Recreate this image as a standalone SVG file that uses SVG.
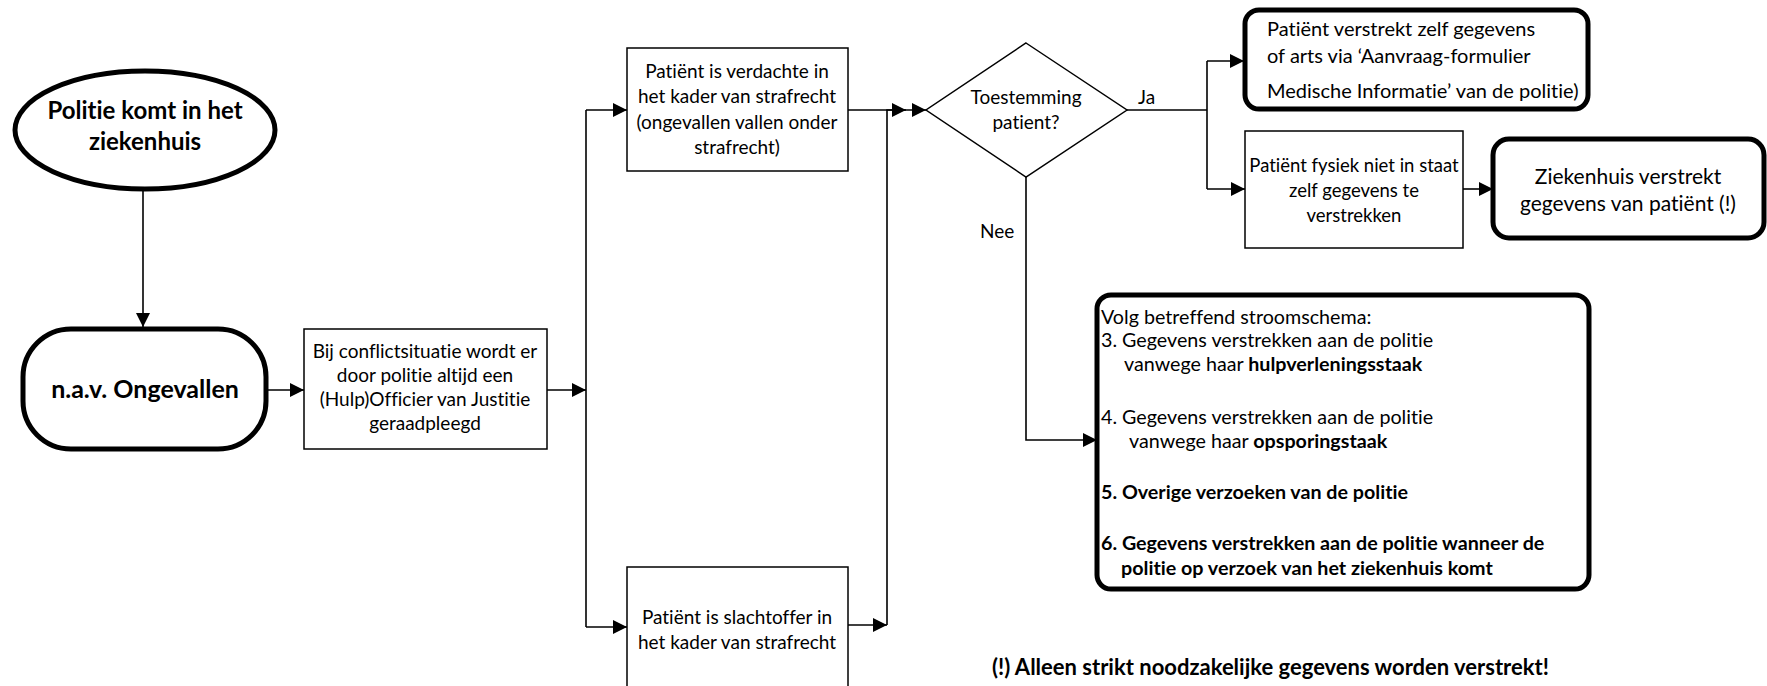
<svg xmlns="http://www.w3.org/2000/svg" width="1767" height="686" viewBox="0 0 1767 686">
  <style>
    text { font-family: Lato, "Liberation Sans", sans-serif; fill: #000; font-variant-ligatures: none; }
    .t { font-size: 19px; }
    .m { font-size: 19.7px; }
    .c { text-anchor: middle; }
    .b { font-weight: bold; }
    .thin { fill: #fff; stroke: #000; stroke-width: 1.5; }
    .thick { fill: #fff; stroke: #000; stroke-width: 5; }
    .wire { fill: none; stroke: #000; stroke-width: 1.6; }
  </style>
  <defs>
    <marker id="arrow" viewBox="0 0 10 10" refX="10" refY="5" markerWidth="15" markerHeight="14" markerUnits="userSpaceOnUse" orient="auto">
      <path d="M0,0 L10,5 L0,10 z" fill="#000"/>
    </marker>
  </defs>
  <rect width="1767" height="686" fill="#fff"/>

  <g id="connectors">
    <path class="wire" d="M143,190 V327" marker-end="url(#arrow)"/>
    <path class="wire" d="M266,390 H304" marker-end="url(#arrow)"/>
    <path class="wire" d="M547,390 H586" marker-end="url(#arrow)"/>
    <path class="wire" d="M586,110 V627"/>
    <path class="wire" d="M586,110 H627" marker-end="url(#arrow)"/>
    <path class="wire" d="M586,627 H627" marker-end="url(#arrow)"/>
    <path class="wire" d="M848,625 H887" marker-end="url(#arrow)"/>
    <path class="wire" d="M887,625 V110 H906" marker-end="url(#arrow)"/>
    <path class="wire" d="M848,110 H926" marker-end="url(#arrow)"/>
    <path class="wire" d="M1127,110 H1207"/>
    <path class="wire" d="M1207,61 V189"/>
    <path class="wire" d="M1207,61 H1244" marker-end="url(#arrow)"/>
    <path class="wire" d="M1207,189 H1245" marker-end="url(#arrow)"/>
    <path class="wire" d="M1463,189 H1493" marker-end="url(#arrow)"/>
    <path class="wire" d="M1026,177 V440 H1097" marker-end="url(#arrow)"/>
    <text class="t" x="1138" y="104">Ja</text>
    <text class="t" x="980" y="238">Nee</text>
  </g>

  <g id="start">
    <ellipse class="thick" cx="145" cy="130" rx="130" ry="59"/>
    <text class="c b" font-size="24" x="145" y="119">Politie komt in het</text>
    <text class="c b" font-size="24" x="145" y="150">ziekenhuis</text>
  </g>

  <g id="ongevallen">
    <rect class="thick" x="23" y="329" width="243" height="120" rx="48" ry="48"/>
    <text class="c b" font-size="25" x="145" y="398">n.a.v. Ongevallen</text>
  </g>

  <g id="conflict">
    <rect class="thin" x="304" y="329" width="243" height="120"/>
    <text class="t c" x="425" y="358">Bij conflictsituatie wordt er</text>
    <text class="t c" x="425" y="382">door politie altijd een</text>
    <text class="t c" x="425" y="406">(Hulp)Officier van Justitie</text>
    <text class="t c" x="425" y="430">geraadpleegd</text>
  </g>

  <g id="verdachte">
    <rect class="thin" x="627" y="48" width="221" height="123"/>
    <text class="t c" x="737" y="78">Patiënt is verdachte in</text>
    <text class="t c" x="737" y="103">het kader van strafrecht</text>
    <text class="t c" x="737" y="129">(ongevallen vallen onder</text>
    <text class="t c" x="737" y="154">strafrecht)</text>
  </g>

  <g id="slachtoffer">
    <rect class="thin" x="627" y="567" width="221" height="130"/>
    <text class="t c" x="737" y="624">Patiënt is slachtoffer in</text>
    <text class="t c" x="737" y="649">het kader van strafrecht</text>
  </g>

  <g id="toestemming">
    <polygon class="thin" points="1026,43 1127,110 1026,177 926,110"/>
    <text class="t c" x="1026" y="104">Toestemming</text>
    <text class="t c" x="1026" y="129">patient?</text>
  </g>

  <g id="zelf">
    <rect class="thick" x="1245" y="10" width="343" height="99" rx="14" ry="14"/>
    <text x="1267" y="36" font-size="20">Patiënt verstrekt zelf gegevens</text>
    <text x="1267" y="63" font-size="20">of arts via ‘Aanvraag-formulier</text>
    <text x="1267" y="98" font-size="20">Medische Informatie’ van de politie)</text>
  </g>

  <g id="fysiek">
    <rect class="thin" x="1245" y="131" width="218" height="117"/>
    <text class="c" font-size="18.5" x="1354" y="172">Patiënt fysiek niet in staat</text>
    <text class="c" font-size="18.5" x="1354" y="197">zelf gegevens te</text>
    <text class="c" font-size="18.5" x="1354" y="222">verstrekken</text>
  </g>

  <g id="ziekenhuis">
    <rect class="thick" x="1493" y="139" width="271" height="99" rx="16" ry="16"/>
    <text class="c" font-size="21" x="1628" y="184">Ziekenhuis verstrekt</text>
    <text class="c" font-size="21" x="1628" y="211">gegevens van patiënt (!)</text>
  </g>

  <g id="stroomschema">
    <rect class="thick" x="1097" y="295" width="492" height="294" rx="14" ry="14"/>
    <text class="m" x="1101" y="324">Volg betreffend stroomschema:</text>
    <text class="m" x="1101" y="347">3. Gegevens verstrekken aan de politie</text>
    <text class="m" x="1124" y="371">vanwege haar <tspan class="b">hulpverleningsstaak</tspan></text>
    <text class="m" x="1101" y="424">4. Gegevens verstrekken aan de politie</text>
    <text class="m" x="1129" y="448">vanwege haar <tspan class="b">opsporingstaak</tspan></text>
    <text class="m b" x="1101" y="499">5. Overige verzoeken van de politie</text>
    <text class="m b" x="1101" y="550">6. Gegevens verstrekken aan de politie wanneer de</text>
    <text class="m b" x="1121" y="575">politie op verzoek van het ziekenhuis komt</text>
  </g>

  <g id="footnote">
    <text class="b" font-size="22" x="992" y="675">(!) Alleen strikt noodzakelijke gegevens worden verstrekt!</text>
  </g>
</svg>
